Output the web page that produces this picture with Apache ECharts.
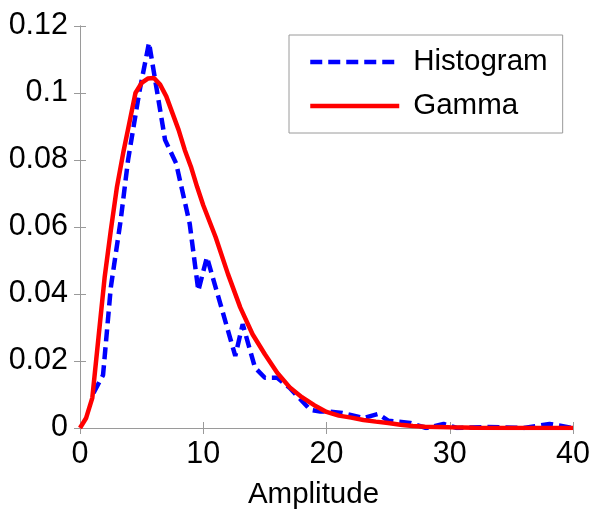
<!DOCTYPE html>
<html>
<head>
<meta charset="utf-8">
<script src="https://cdn.jsdelivr.net/npm/echarts@6/dist/echarts.min.js"></script>
<style>
html,body{margin:0;padding:0;background:#fff;}
#chart{width:602px;height:523px;}
</style>
</head>
<body>
<div id="chart"></div>
<script>
// Histogram (blue dashed): [amplitude, density]
const histX = [1.1, 1.87, 2.5, 3.3, 3.9, 4.8, 5.6, 6.9, 7.8, 8.9, 9.6, 10.3, 12.6, 13.2, 14.2, 15, 16, 17, 18.7, 19.5, 20.3, 21.3, 23, 24.2, 25, 26.8, 28.1, 29.5, 30.6, 33, 36, 38.1, 40];
const histY = [0.0105, 0.0158, 0.042, 0.062, 0.080, 0.100, 0.115, 0.086, 0.079, 0.061, 0.041, 0.051, 0.0215, 0.031, 0.018, 0.015, 0.015, 0.012, 0.0054, 0.0049, 0.0049, 0.0045, 0.003, 0.0042, 0.0022, 0.0015, 0, 0.0012, 0, 0.0003, 0, 0.0012, 0];
// Gamma fit (red solid)
const gammaX = [0, 0.5, 1, 1.5, 2, 2.5, 3, 3.5, 4, 4.5, 5, 5.5, 6, 6.5, 7, 7.5, 8, 8.5, 9, 9.5, 10, 11, 12, 13, 14, 15, 16, 17, 18, 19, 20, 21, 22, 23, 24, 25, 26, 27, 28, 29, 30, 32, 35, 40];
const gammaY = [0, 0.003, 0.009, 0.027, 0.045, 0.059, 0.072, 0.082, 0.091, 0.100, 0.103, 0.1043, 0.1045, 0.1025, 0.099, 0.094, 0.089, 0.083, 0.078, 0.072, 0.0665, 0.057, 0.046, 0.036, 0.028, 0.022, 0.0165, 0.0122, 0.0092, 0.0068, 0.0048, 0.0037, 0.0031, 0.0024, 0.0019, 0.0015, 0.001, 0.0006, 0.0004, 0.0003, 0.0002, 0.0001, 0, 0];
const xTicks = [0, 10, 20, 30, 40];
const yTicks = [0, 0.02, 0.04, 0.06, 0.08, 0.1, 0.12];
const seriesNames = ['Histogram', 'Gamma'];
const xLabel = 'Amplitude';

const zip = (xs, ys) => xs.map((x, i) => [x, ys[i]]);
const FONT = 'Liberation Sans, Arial, sans-serif';
const AX = '#9a9a9a';

const chart = echarts.init(document.getElementById('chart'), null, {renderer: 'canvas'});
const baseAxisLine = {show: true, lineStyle: {color: AX, width: 1}};
const tick = {show: true, inside: true, length: 6, lineStyle: {color: AX}};
chart.setOption({
  animation: false,
  backgroundColor: '#fff',
  grid: {left: 80, top: 26, right: 29, bottom: 95, containLabel: false},
  legend: {
    orient: 'vertical',
    left: 289, top: 35,
    padding: [12, 15, 12, 19],
    itemWidth: 89, itemHeight: 14, itemGap: 14,
    borderColor: '#9a9a9a', borderWidth: 1,
    backgroundColor: '#fff',
    itemStyle: {opacity: 0},
    lineStyle: {width: 4.5},
    textStyle: {fontFamily: FONT, fontSize: 29.5, color: '#000', lineHeight: 30, padding: [0, 0, 0, 9]},
    data: seriesNames
  },
  xAxis: [{
    type: 'value', min: xTicks[0], max: xTicks[xTicks.length - 1], interval: 10,
    position: 'bottom',
    axisLine: baseAxisLine, axisTick: tick, splitLine: {show: false},
    axisLabel: {fontFamily: FONT, fontSize: 30.5, color: '#000', margin: 11},
    name: xLabel, nameLocation: 'middle', nameGap: 52,
    nameTextStyle: {fontFamily: FONT, fontSize: 29.5, color: '#000', padding: [0, 26, 0, 0]}
  }, {
    type: 'value', min: xTicks[0], max: xTicks[xTicks.length - 1], interval: 10,
    position: 'top',
    axisLine: baseAxisLine, axisTick: tick, splitLine: {show: false}, axisLabel: {show: false}
  }],
  yAxis: [{
    type: 'value', min: yTicks[0], max: yTicks[yTicks.length - 1], interval: 0.02,
    position: 'left',
    axisLine: baseAxisLine, axisTick: tick, splitLine: {show: false},
    axisLabel: {fontFamily: FONT, fontSize: 30.5, color: '#000', margin: 12,
      formatter: v => String(Math.round(v * 100) / 100)}
  }, {
    type: 'value', min: yTicks[0], max: yTicks[yTicks.length - 1], interval: 0.02,
    position: 'right',
    axisLine: baseAxisLine, axisTick: tick, splitLine: {show: false}, axisLabel: {show: false}
  }],
  series: [{
    name: seriesNames[0], type: 'line', data: zip(histX, histY),
    showSymbol: false, symbol: 'none',
    lineStyle: {color: '#0000ff', width: 4.5, type: [12, 6]},
    itemStyle: {color: '#0000ff'}, z: 2
  }, {
    name: seriesNames[1], type: 'line', data: zip(gammaX, gammaY),
    showSymbol: false, symbol: 'none',
    lineStyle: {color: '#ff0000', width: 4.5},
    itemStyle: {color: '#ff0000'}, z: 3
  }]
});
</script>
</body>
</html>
